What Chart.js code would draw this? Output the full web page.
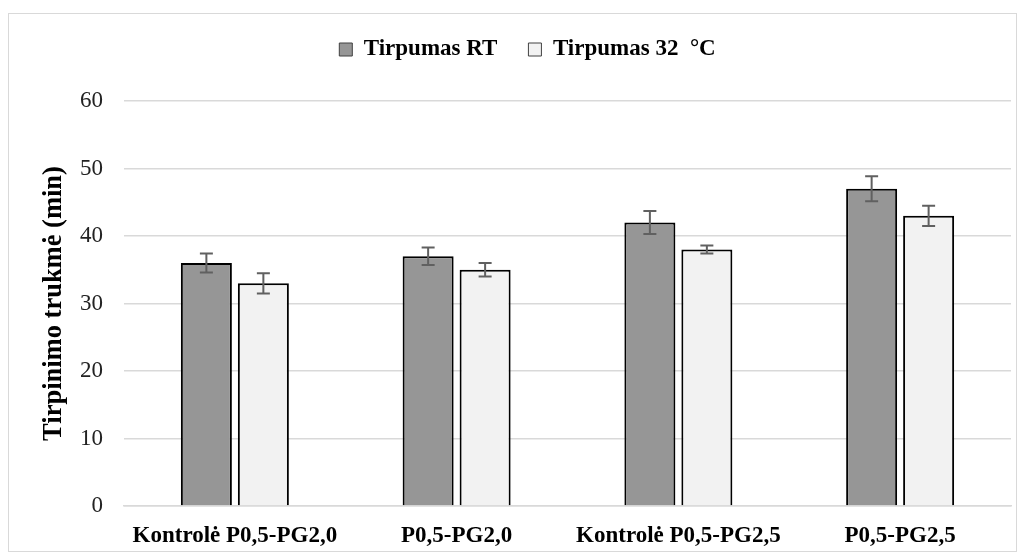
<!DOCTYPE html>
<html>
<head>
<meta charset="utf-8">
<script src="https://cdn.jsdelivr.net/npm/chart.js@4"></script>
<style>
  html, body { margin: 0; padding: 0; background: #fff; }
  #wrap { position: relative; width: 1026px; height: 560px; }
  #frame { position: absolute; left: 8px; top: 13px; width: 1009px; height: 539px; border: 1px solid #d9d9d9; box-sizing: border-box; }
  canvas { position: absolute; left: 0; top: 0; }
</style>
</head>
<body>
<div id="wrap">
  <div id="frame"></div>
  <canvas id="chart" width="1026" height="560"></canvas>
</div>
<script>
// data
const categories = ["Kontrolė P0,5-PG2,0", "P0,5-PG2,0", "Kontrolė P0,5-PG2,5", "P0,5-PG2,5"];
const rtValues = [36, 37, 42, 47];
const rtErrors = [1.4, 1.3, 1.7, 1.85];
const warmValues = [33, 35, 38, 43];
const warmErrors = [1.5, 1.0, 0.6, 1.5];
const yTicks = [0, 10, 20, 30, 40, 50, 60];

const serif = "'Liberation Serif', 'Times New Roman', serif";

// draws the error whiskers through the y scale
const errorBars = {
  id: "errorBars",
  afterDatasetsDraw(chart) {
    const ctx = chart.ctx;
    const y = chart.scales.y;
    ctx.save();
    ctx.strokeStyle = "#606060";
    ctx.lineWidth = 2;
    chart.data.datasets.forEach((ds, i) => {
      const meta = chart.getDatasetMeta(i);
      meta.data.forEach((bar, j) => {
        const top = y.getPixelForValue(ds.data[j] + ds.errors[j]);
        const bottom = y.getPixelForValue(ds.data[j] - ds.errors[j]);
        const half = 6.5;
        ctx.beginPath();
        ctx.moveTo(bar.x, top);
        ctx.lineTo(bar.x, bottom);
        ctx.moveTo(bar.x - half, top);
        ctx.lineTo(bar.x + half, top);
        ctx.moveTo(bar.x - half, bottom);
        ctx.lineTo(bar.x + half, bottom);
        ctx.stroke();
      });
    });
    ctx.restore();
  },
};

// extra room under the legend, and nudge it a bit to the right
const legendSpace = {
  id: "legendSpace",
  beforeInit(chart) {
    const fit = chart.legend.fit;
    chart.legend.fit = function () {
      fit.bind(chart.legend)();
      this.height += 30;
    };
  },
  afterLayout(chart) {
    chart.legend.left += 22;
    chart.legend.right += 22;
  },
};

new Chart(document.getElementById("chart"), {
  type: "bar",
  data: {
    labels: categories,
    datasets: [
      {
        label: "Tirpumas RT",
        data: rtValues,
        errors: rtErrors,
        backgroundColor: "#969696",
        borderColor: "#000",
        borderWidth: 2,
        categoryPercentage: 0.514,
        barPercentage: 0.895,
      },
      {
        label: "Tirpumas 32  °C",
        data: warmValues,
        errors: warmErrors,
        backgroundColor: "#f2f2f2",
        borderColor: "#000",
        borderWidth: 2,
        categoryPercentage: 0.514,
        barPercentage: 0.895,
      },
    ],
  },
  options: {
    responsive: false,
    animation: false,
    layout: {
      padding: { left: 0, right: 15, top: 7, bottom: 0 },
    },
    plugins: {
      tooltip: { enabled: false },
      legend: {
        position: "top",
        labels: {
          color: "#000",
          font: { family: serif, size: 23, weight: "bold" },
          boxWidth: 13,
          boxHeight: 13,
          padding: 31,
          generateLabels: function (chart) {
            const items = Chart.defaults.plugins.legend.labels.generateLabels(chart);
            items.forEach((it) => {
              it.lineWidth = 1;
              it.strokeStyle = "#404040";
            });
            return items;
          },
        },
      },
    },
    scales: {
      x: {
        grid: { display: false, drawTicks: false },
        border: { color: "#d9d9d9", width: 1.5 },
        ticks: {
          color: "#000",
          padding: 16,
          maxRotation: 0,
          autoSkip: false,
          font: { family: serif, size: 23, weight: "bold" },
        },
        afterFit: function (scale) {
          scale.height = 54;
        },
      },
      y: {
        min: 0,
        max: 60,
        afterBuildTicks: function (scale) {
          scale.ticks = yTicks.map((v) => ({ value: v }));
        },
        grid: { color: "#d9d9d9", lineWidth: 1.5, drawTicks: false },
        border: { display: false },
        ticks: {
          color: "#222",
          padding: 21,
          font: { family: serif, size: 23 },
        },
        title: {
          display: true,
          text: "Tirpinimo trukmė (min)",
          color: "#000",
          font: { family: serif, size: 26.5, weight: "bold" },
          padding: { top: 38, bottom: 0 },
        },
        afterFit: function (scale) {
          scale.width = 124;
        },
      },
    },
  },
  plugins: [errorBars, legendSpace],
});
</script>
</body>
</html>
